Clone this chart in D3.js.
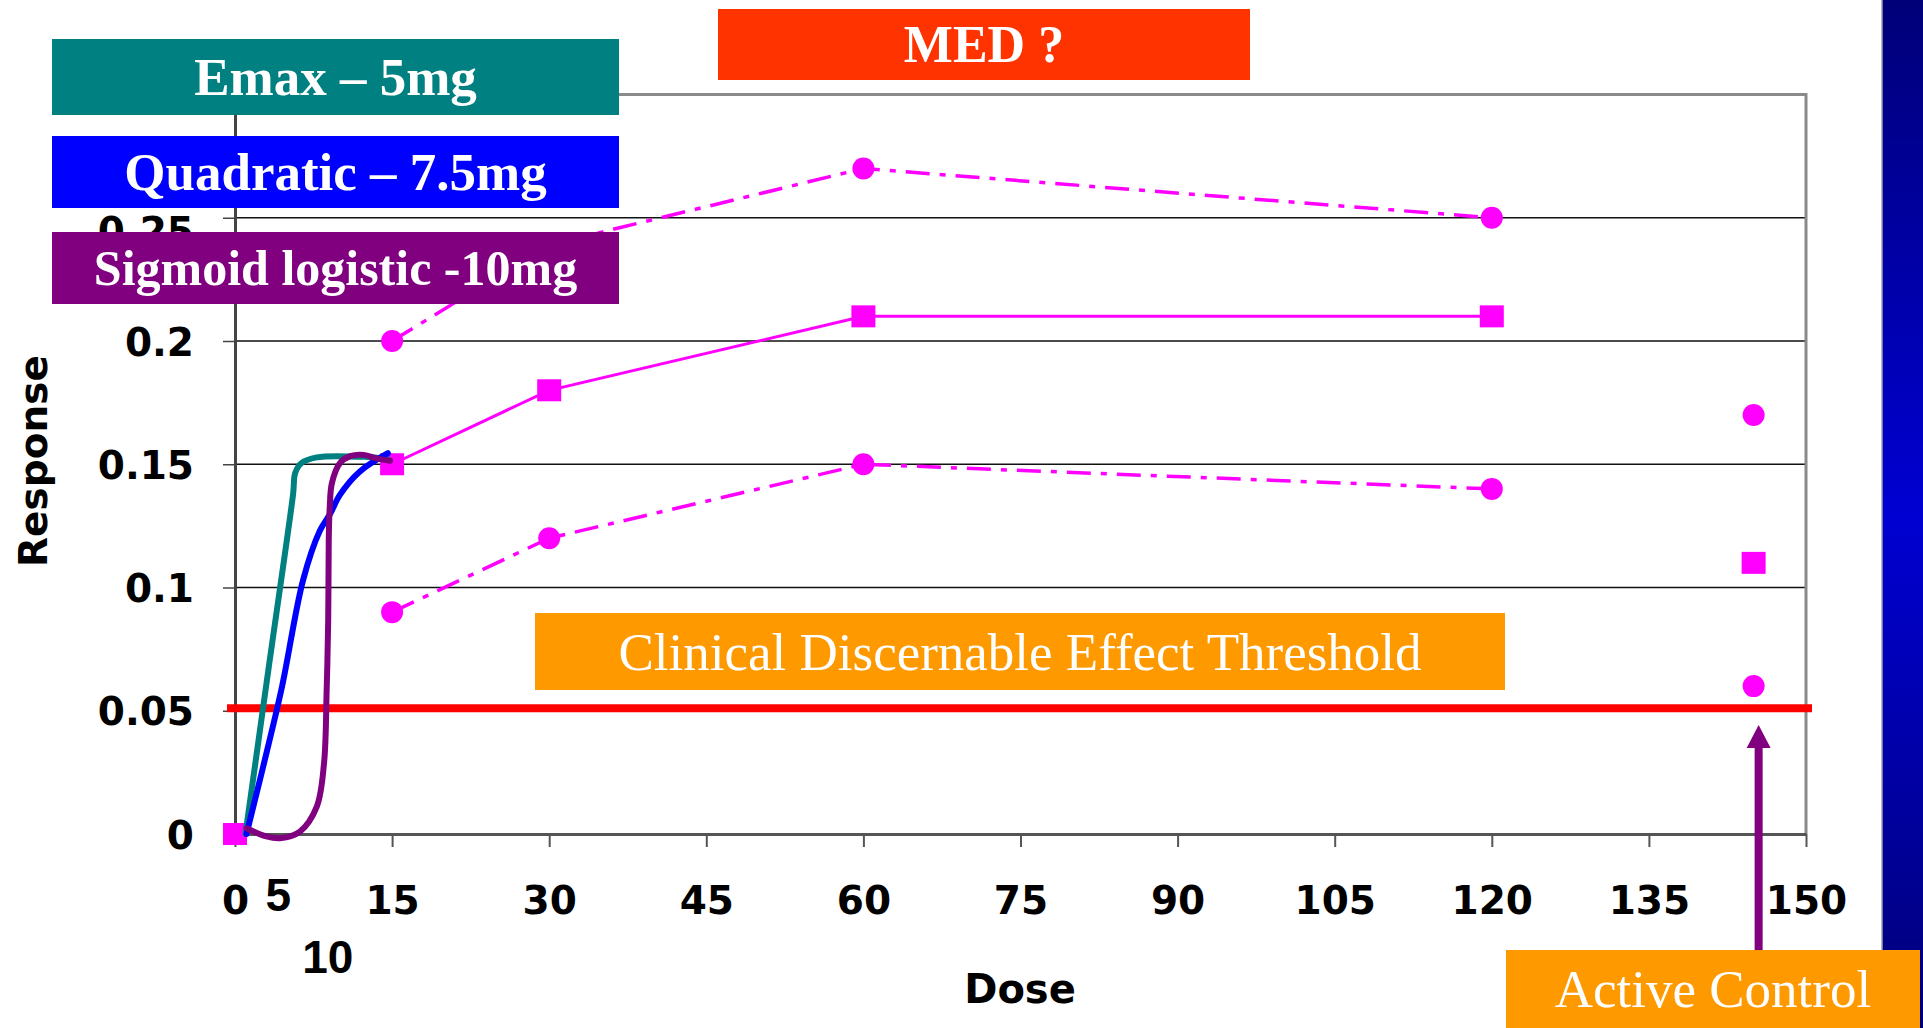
<!DOCTYPE html>
<html>
<head>
<meta charset="utf-8">
<script src="https://cdn.jsdelivr.net/npm/d3@7"></script>
<style>
  body { margin: 0; background: #fff; }
  svg { display: block; }
  .tick text { font-family: "DejaVu Sans", sans-serif; font-weight: bold; fill: #000; }
</style>
</head>
<body>
<div class="chart"></div>
<script>
// dose levels of the study and the observed responses
var doses = [0, 15, 30, 60, 120];
var meanResp = [0, 0.15, 0.18, 0.21, 0.21];
var upperResp = [null, 0.20, 0.239, 0.27, 0.25];
var lowerResp = [null, 0.09, 0.12, 0.15, 0.14];

// active control arm
var activeDose = 145;
var activeMean = 0.11;
var activeUpper = 0.17;
var activeLower = 0.06;

var threshold = 0.051;

// fitted model curves
var emaxDose = [1, 3.3, 5.55, 5.75, 6.35, 7.8, 12.3, 14.6];
var emaxResp = [0, 0.07, 0.138, 0.1465, 0.1505, 0.1528, 0.153, 0.152];
var quadDose = [1.1, 2.9, 4.5, 6.5, 8.1, 9.1, 10, 11.9, 14.6];
var quadResp = [0, 0.031, 0.06, 0.103, 0.123, 0.13, 0.1375, 0.147, 0.1545];
var sigDose = [1.1, 3.0, 4.3, 6.2, 7.8, 8.5, 8.75, 8.9, 8.95, 9.05, 9.25, 10.0, 11.0, 12.3, 13.5, 14.8];
var sigResp = [0.0023, -0.001, -0.0017, 0.001, 0.011, 0.0287, 0.058, 0.087, 0.119, 0.133, 0.1423, 0.1504, 0.1533, 0.1538, 0.1524, 0.1514];

// axis ticks
var xTicks = [0, 15, 30, 45, 60, 75, 90, 105, 120, 135, 150];
var yTicks = [0, 0.05, 0.1, 0.15, 0.2, 0.25];
var extraXLabels = ["5", "10"];

// boxes with labels
var modelLabels = ["Emax \u2013 5mg", "Quadratic \u2013 7.5mg", "Sigmoid logistic -10mg"];
var modelColors = ["#008080", "#0000ff", "#800080"];

var svgWidth = 1923;
var svgHeight = 1028;

var svg = d3.select(".chart")
  .append("svg")
  .attr("width", svgWidth)
  .attr("height", svgHeight);

svg.append("rect").attr("width", svgWidth).attr("height", svgHeight).attr("fill", "#fff");

// blue band on the right side of the slide
var grad = svg.append("defs").append("linearGradient")
  .attr("id", "band").attr("x1", 0).attr("y1", 0).attr("x2", 0).attr("y2", 1);
grad.append("stop").attr("offset", "0%").attr("stop-color", "#000078");
grad.append("stop").attr("offset", "50%").attr("stop-color", "#0000d2");
grad.append("stop").attr("offset", "100%").attr("stop-color", "#000078");
svg.append("rect")
  .attr("x", 1882).attr("y", 0).attr("width", 41).attr("height", svgHeight)
  .attr("fill", "url(#band)");
svg.append("line")
  .attr("x1", 1882).attr("x2", 1882).attr("y1", 0).attr("y2", svgHeight)
  .attr("stroke", "#a0a0b0").attr("stroke-width", 1.5);

// scales
var xScale = d3.scaleLinear().domain([0, 150]).range([235, 1806]);
var yScale = d3.scaleLinear().domain([0, 0.3]).range([834, 94.5]);

// gridlines
svg.append("g").selectAll("line")
  .data(yTicks.filter(d => d > 0))
  .enter()
  .append("line")
  .attr("x1", xScale(0)).attr("x2", xScale(150))
  .attr("y1", d => yScale(d)).attr("y2", d => yScale(d))
  .attr("stroke", "#111").attr("stroke-width", 1.3);

// top and right border of the plot area
svg.append("path")
  .attr("d", `M${xScale(0)},${yScale(0.3)}H${xScale(150)}V${yScale(0)}`)
  .attr("fill", "none")
  .attr("stroke", "#8a8a8a")
  .attr("stroke-width", 3);

// axes
var xAxis = d3.axisBottom(xScale).tickValues(xTicks).tickSize(13).tickSizeOuter(0).tickPadding(39);
var yAxis = d3.axisLeft(yScale).tickValues(yTicks).tickSize(12).tickSizeOuter(0).tickPadding(29)
  .tickFormat(d => String(d));

var gx = svg.append("g")
  .attr("transform", `translate(0, ${yScale(0)})`)
  .call(xAxis);
gx.selectAll("text").style("font-size", "39px");
gx.select(".domain").attr("stroke", "#555").attr("stroke-width", 3);
gx.selectAll(".tick line").attr("stroke", "#555").attr("stroke-width", 2);

var gy = svg.append("g")
  .attr("transform", `translate(${xScale(0)}, 0)`)
  .call(yAxis);
// the top label sits a little low in the original, half hidden by the boxes
gy.selectAll("text").style("font-size", "39px")
  .attr("dy", d => d === 0.25 ? "0.68em" : "0.36em");
gy.select(".domain").attr("stroke", "#444").attr("stroke-width", 3);
gy.selectAll(".tick line").attr("stroke", "#444").attr("stroke-width", 1.5);

// extra dose labels 5 and 10
svg.selectAll(".extra")
  .data(extraXLabels)
  .enter()
  .append("text")
  .attr("class", "extra")
  .attr("x", (d, i) => xScale(+d) - (i === 0 ? 9 : 12))
  .attr("y", (d, i) => i === 0 ? 911 : 973)
  .attr("text-anchor", "middle")
  .style("font-family", "'Liberation Sans', Arial, sans-serif")
  .style("font-weight", "bold")
  .style("font-size", "46px")
  .text(d => d);

// axis titles
svg.append("text")
  .attr("transform", "translate(47, 461) rotate(-90)")
  .attr("text-anchor", "middle")
  .style("font-family", "'DejaVu Sans', sans-serif")
  .style("font-weight", "bold")
  .style("font-size", "39px")
  .text("Response");

svg.append("text")
  .attr("x", 1020).attr("y", 1003)
  .attr("text-anchor", "middle")
  .style("font-family", "'DejaVu Sans', sans-serif")
  .style("font-weight", "bold")
  .style("font-size", "40px")
  .text("Dose");

// threshold line
svg.append("line")
  .attr("x1", 227).attr("x2", 1812)
  .attr("y1", yScale(threshold)).attr("y2", yScale(threshold))
  .attr("stroke", "#ff0000").attr("stroke-width", 8);

var magenta = "#ff00ff";
var pts = function(ys) {
  return doses.map((d, i) => [d, ys[i]]).filter(p => p[1] !== null);
};
var line = d3.line().x(p => xScale(p[0])).y(p => yScale(p[1]));

// mean response line (from 15 onwards)
svg.append("path")
  .datum(pts(meanResp).filter(p => p[0] > 0))
  .attr("d", line)
  .attr("fill", "none").attr("stroke", magenta).attr("stroke-width", 3);

// upper and lower bands
[upperResp, lowerResp].forEach(function(ys) {
  svg.append("path")
    .datum(pts(ys))
    .attr("d", line)
    .attr("fill", "none").attr("stroke", magenta).attr("stroke-width", 3.5)
    .attr("stroke-dasharray", "24,10,6,10");

  svg.append("g").selectAll("circle")
    .data(pts(ys))
    .enter()
    .append("circle")
    .attr("cx", p => xScale(p[0]))
    .attr("cy", p => yScale(p[1]))
    .attr("r", 11)
    .attr("fill", magenta);
});

// squares for the mean
svg.append("g").selectAll("rect")
  .data(pts(meanResp).concat([[activeDose, activeMean]]))
  .enter()
  .append("rect")
  .attr("x", p => xScale(p[0]) - 12)
  .attr("y", p => yScale(p[1]) - 11)
  .attr("width", 24).attr("height", 22)
  .attr("fill", magenta);

// active control circles
svg.append("g").selectAll("circle")
  .data([activeUpper, activeLower])
  .enter()
  .append("circle")
  .attr("cx", xScale(activeDose))
  .attr("cy", d => yScale(d))
  .attr("r", 11)
  .attr("fill", magenta);

// model curves
var curve = d3.line()
  .x(p => xScale(p[0]))
  .y(p => yScale(p[1]))
  .curve(d3.curveCatmullRom.alpha(0.5));

[[emaxDose, emaxResp, 0], [quadDose, quadResp, 1], [sigDose, sigResp, 2]].forEach(function(m) {
  svg.append("path")
    .datum(m[0].map((d, i) => [d, m[1][i]]))
    .attr("d", curve)
    .attr("fill", "none")
    .attr("stroke", modelColors[m[2]])
    .attr("stroke-width", 6)
    .attr("stroke-linecap", "round")
    .attr("stroke-linejoin", "round");
});

// arrow pointing to active control
var ax = xScale(activeDose) + 5;
svg.append("rect")
  .attr("x", ax - 4).attr("y", 745).attr("width", 8).attr("height", 205)
  .attr("fill", "#800080");
svg.append("path")
  .attr("d", `M${ax},725L${ax + 12},748L${ax - 12},748Z`)
  .attr("fill", "#800080");

// label boxes
function box(x0, y0, x1, y1, fill, label, size, weight) {
  svg.append("rect")
    .attr("x", x0).attr("y", y0)
    .attr("width", x1 - x0).attr("height", y1 - y0)
    .attr("fill", fill);
  svg.append("text")
    .attr("x", (x0 + x1) / 2)
    .attr("y", (y0 + y1) / 2 + size * 0.34)
    .attr("text-anchor", "middle")
    .style("font-family", "'Liberation Serif', 'Times New Roman', serif")
    .style("font-weight", weight)
    .style("font-size", size + "px")
    .attr("fill", "#fff")
    .text(label);
}

box(52, 39, 619, 115, modelColors[0], modelLabels[0], 53, "bold");
box(52, 136, 619, 208, modelColors[1], modelLabels[1], 53, "bold");
box(52, 232, 619, 304, modelColors[2], modelLabels[2], 50, "bold");
box(718, 9, 1250, 80, "#ff3300", "MED ?", 52, "bold");
box(535, 613, 1505, 690, "#ff9900", "Clinical Discernable Effect Threshold", 53, "normal");
box(1506, 950, 1920, 1028, "#ff9900", "Active Control", 53, "normal");
</script>
</body>
</html>
